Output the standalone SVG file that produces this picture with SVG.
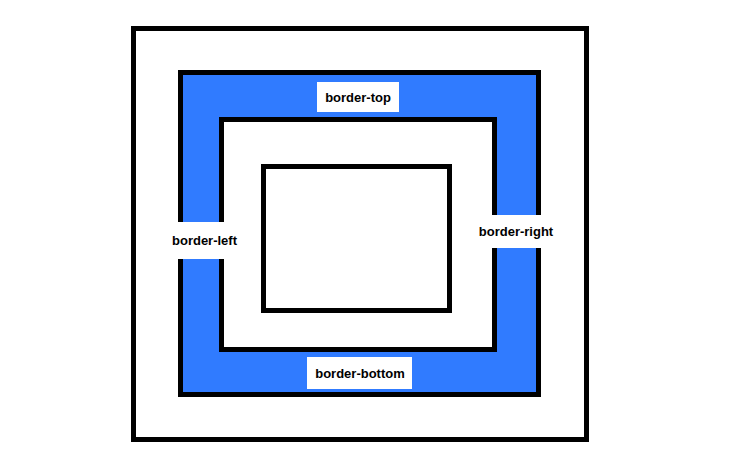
<svg xmlns="http://www.w3.org/2000/svg" width="739" height="470" viewBox="0 0 739 470">
<style>
.box{fill:none;stroke:#000;stroke-width:5}
.lbl{fill:#fff;stroke:none}
.t{font-family:"Liberation Sans",Arial,sans-serif;font-weight:bold;font-size:13px;fill:#000;text-anchor:middle}
</style>
<rect width="739" height="470" fill="#fff"/>
<g id="margin">
<rect class="box" x="133.5" y="28.5" width="453" height="411"/>
</g>
<g id="border">
<rect x="180.5" y="72.5" width="358" height="322" fill="#307bff" stroke="#000" stroke-width="5"/>
</g>
<g id="padding">
<rect x="221.5" y="119.5" width="273" height="230" fill="#fff" stroke="#000" stroke-width="5"/>
</g>
<g id="content">
<rect class="box" x="263.5" y="166.5" width="186" height="144"/>
</g>
<g id="label-top">
<rect class="lbl" x="317" y="82" width="82" height="30"/>
<text class="t" x="358" y="102">border-top</text>
</g>
<g id="label-left">
<rect class="lbl" x="166" y="222" width="77" height="37"/>
<text class="t" x="204.5" y="245">border-left</text>
</g>
<g id="label-right">
<rect class="lbl" x="474" y="215" width="84" height="33"/>
<text class="t" x="516" y="236">border-right</text>
</g>
<g id="label-bottom">
<rect class="lbl" x="307" y="357" width="105" height="32"/>
<text class="t" x="360" y="378">border-bottom</text>
</g>
<g id="connectors"></g>
</svg>
